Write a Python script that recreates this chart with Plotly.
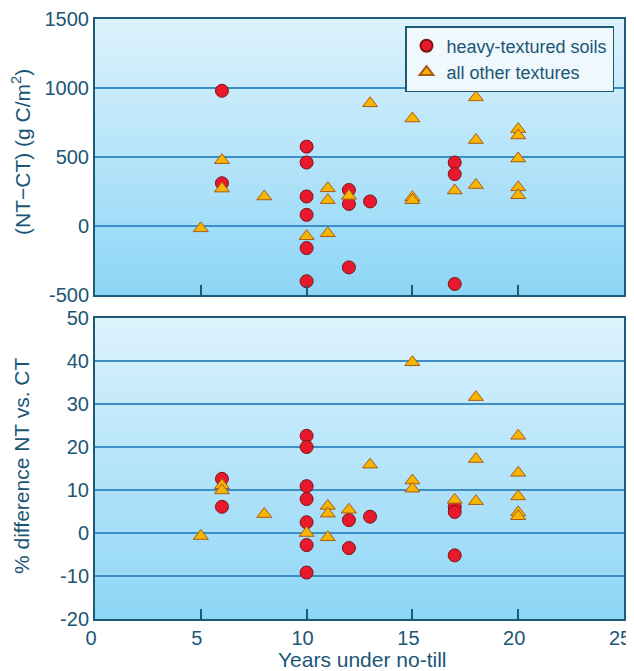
import plotly.graph_objects as go

# ---- data: top panel (NT-CT, g C/m2) ----
heavy_top_x = [6, 6, 10, 10, 10, 10, 10, 10, 12, 12, 12, 13, 17, 17, 17]
heavy_top_y = [980, 310, 575, 460, 214, 81, -160, -400, 261, 160, -300, 178, 460, 376, -420]

other_top_x = [5, 6, 6, 8, 10, 11, 11, 11, 12, 13, 15, 15, 15, 17, 18, 18, 18, 20, 20, 20, 20, 20]
other_top_y = [-17, 477, 271, 214, -74, 273, 187, -53, 218, 889, 779, 208, 187, 257, 932, 623, 297, 702, 656, 489, 280, 223]

# ---- data: bottom panel (% difference NT vs CT) ----
heavy_bot_x = [6, 6, 10, 10, 10, 10, 10, 10, 10, 12, 12, 13, 17, 17, 17]
heavy_bot_y = [12.6, 6.1, 22.6, 20.0, 10.9, 7.9, 2.5, -2.8, -9.2, 3.0, -3.5, 3.8, 6.1, 4.9, -5.2]

other_bot_x = [5, 6, 6, 8, 10, 11, 11, 11, 12, 13, 15, 15, 15, 17, 18, 18, 18, 20, 20, 20, 20, 20]
other_bot_y = [-0.7, 11.1, 9.9, 4.4, 0.0, 6.3, 4.5, -1.0, 5.4, 15.9, 39.7, 12.2, 10.3, 7.7, 31.6, 17.2, 7.4, 22.6, 14.0, 8.5, 4.8, 3.9]

x_ticks = [0, 5, 10, 15, 20, 25]
top_ticks = [-500, 0, 500, 1000, 1500]
bot_ticks = [-20, -10, 0, 10, 20, 30, 40, 50]

TEXT = "#1b5676"
BORDER = "#1d5a78"
GRID = "#3b8fc6"
RED = "#e8192c"
RED_LINE = "#7a1515"
ORANGE = "#f7b500"
ORANGE_LINE = "#a85a1a"
FONT = "Liberation Sans, Arial, sans-serif"

fig = go.Figure()

circle = dict(symbol="circle", size=13, color=RED, line=dict(color=RED_LINE, width=1))
tri = dict(symbol="triangle-up", size=13, color=ORANGE, line=dict(color=ORANGE_LINE, width=1))

fig.add_trace(go.Scatter(x=heavy_top_x, y=heavy_top_y, mode="markers", marker=circle,
                         name="heavy-textured soils", xaxis="x", yaxis="y"))
fig.add_trace(go.Scatter(x=other_top_x, y=other_top_y, mode="markers", marker=tri,
                         name="all other textures", xaxis="x", yaxis="y"))
fig.add_trace(go.Scatter(x=heavy_bot_x, y=heavy_bot_y, mode="markers", marker=circle,
                         name="heavy-textured soils", xaxis="x2", yaxis="y2", showlegend=False))
fig.add_trace(go.Scatter(x=other_bot_x, y=other_bot_y, mode="markers", marker=tri,
                         name="all other textures", xaxis="x2", yaxis="y2", showlegend=False))

# gradient background bands
def lerp(c1, c2, t):
    return "rgb(%d,%d,%d)" % tuple(round(a + (b - a) * t) for a, b in zip(c1, c2))

top_c = (221, 242, 252)
bot_c = (141, 214, 246)
n = 60
shapes = []
for xr, yr in (("x domain", "y domain"), ("x2 domain", "y2 domain")):
    for i in range(n):
        t = (i + 0.5) / n
        shapes.append(dict(type="rect", xref=xr, yref=yr, x0=0, x1=1,
                           y0=1 - (i + 1) / n, y1=1 - i / n + 0.002,
                           fillcolor=lerp(top_c, bot_c, t), line=dict(width=0),
                           layer="below"))

common_x = dict(range=[0, 25], tickvals=x_ticks, ticks="inside",
                ticklen=10, tickwidth=1.5, tickcolor=BORDER, showgrid=False, zeroline=False,
                showline=True, linecolor=BORDER, linewidth=2, mirror=True, automargin=False,
                ticklabeloverflow="allow")
common_y = dict(showgrid=True, gridcolor=GRID, gridwidth=1.5, zeroline=True,
                zerolinecolor=GRID, zerolinewidth=1.5, showline=True, linecolor=BORDER,
                linewidth=2, mirror=True, ticks="", tickfont=dict(size=20, color=TEXT),
                automargin=False)

# page has an 8px body margin; plot area on page: left 95, right 624, top 19, bottom 619
def px_x(p):
    return (p - 95) / 529.0

def px_y(p):
    return (619 - p) / 600.0

annotations = [
    dict(text="(NT\u2212CT) (g C/m<sup>2</sup>)", xref="paper", yref="paper",
         x=px_x(21), y=px_y(152), textangle=-90, showarrow=False,
         xanchor="center", yanchor="middle", font=dict(size=21, color=TEXT)),
    dict(text="% difference NT vs. CT", xref="paper", yref="paper",
         x=px_x(21), y=px_y(466), textangle=-90, showarrow=False,
         xanchor="center", yanchor="middle", font=dict(size=21, color=TEXT)),
    dict(text="Years under no-till", xref="paper", yref="paper",
         x=px_x(362), y=px_y(659), showarrow=False,
         xanchor="center", yanchor="middle", font=dict(size=21, color=TEXT)),
]

fig.update_layout(
    width=626, height=663,
    margin=dict(l=87, r=10, t=11, b=52, autoexpand=False),
    paper_bgcolor="white",
    plot_bgcolor="rgba(0,0,0,0)",
    font=dict(family=FONT, color=TEXT, size=20),
    showlegend=True,
    legend=dict(x=px_x(614), xanchor="right", y=px_y(26), yanchor="top",
                bgcolor="#eef8fd", bordercolor=BORDER, borderwidth=1.5,
                font=dict(size=18, color=TEXT), itemsizing="constant",
                tracegroupgap=0),
    xaxis=dict(**common_x, domain=[0, 1], anchor="y", showticklabels=False),
    yaxis=dict(**common_y, domain=[px_y(295), 1.0], anchor="x", range=[-500, 1500],
               tickvals=top_ticks, ticktext=[str(v) for v in top_ticks]),
    xaxis2=dict(**common_x, domain=[0, 1], anchor="y2", showticklabels=True,
                ticktext=[str(v) for v in x_ticks], ticklabelshift=-4,
                tickfont=dict(size=20, color=TEXT)),
    yaxis2=dict(**common_y, domain=[0, px_y(318)], anchor="x2", range=[-20, 50],
                tickvals=bot_ticks, ticktext=[str(v) for v in bot_ticks]),
    shapes=shapes,
    annotations=annotations,
)

fig.write_html("out.html")
